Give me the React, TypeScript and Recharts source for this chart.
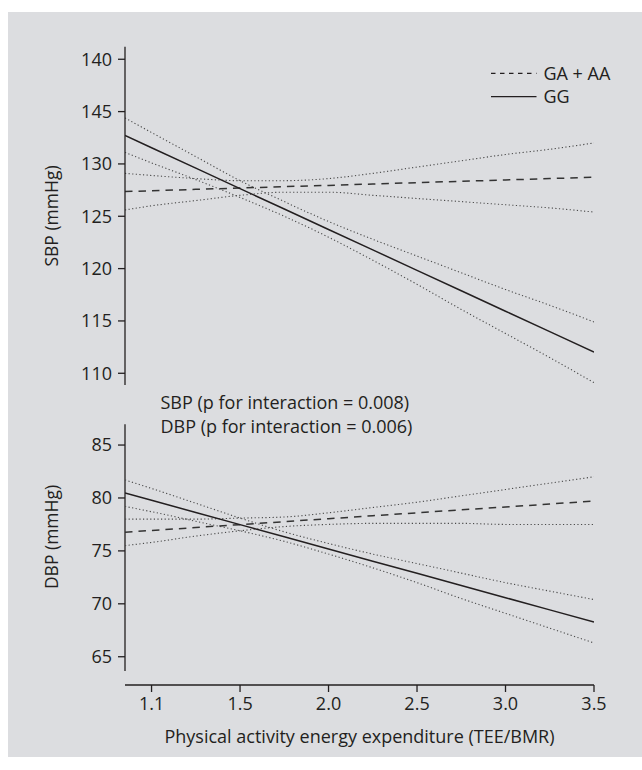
import { LineChart, Line, XAxis, YAxis, ReferenceLine } from "recharts";

// x positions: first tick sits at 1.0 but is printed "1.1" in the source figure
const xVals = [0.85, 1.0, 1.25, 1.5, 1.75, 2.0, 2.25, 2.5, 2.75, 3.0, 3.25, 3.5];
const xTicks = [1.0, 1.5, 2.0, 2.5, 3.0, 3.5];
const xTickLabels = ["1.1", "1.5", "2.0", "2.5", "3.0", "3.5"];

// SBP panel
const sbpTicks = [110, 115, 120, 125, 130, 135, 140];
const sbpTickLabels = ["110", "115", "120", "125", "130", "145", "140"];
const sbpGA = [127.36, 127.44, 127.57, 127.7, 127.83, 127.95, 128.08, 128.21, 128.34, 128.47, 128.6, 128.73];
const sbpGAUpper = [129.1, 128.9, 128.6, 128.4, 128.4, 128.6, 129.1, 129.7, 130.3, 130.9, 131.4, 132.0];
const sbpGALower = [125.6, 126.0, 126.5, 127.0, 127.3, 127.3, 127.0, 126.7, 126.4, 126.1, 125.8, 125.4];
const sbpGG = [132.72, 131.55, 129.6, 127.64, 125.69, 123.74, 121.79, 119.83, 117.88, 115.93, 113.98, 112.02];
const sbpGGUpper = [134.4, 133.0, 130.7, 128.4, 126.4, 124.5, 122.8, 121.2, 119.6, 118.0, 116.5, 114.9];
const sbpGGLower = [131.1, 130.1, 128.5, 126.8, 125.0, 123.0, 120.8, 118.5, 116.1, 113.8, 111.5, 109.1];

// DBP panel
const dbpTicks = [65, 70, 75, 80, 85];
const dbpGA = [76.76, 76.93, 77.21, 77.48, 77.76, 78.04, 78.32, 78.6, 78.88, 79.15, 79.43, 79.71];
const dbpGAUpper = [78.0, 78.0, 78.0, 78.1, 78.2, 78.6, 79.1, 79.6, 80.2, 80.8, 81.4, 82.0];
const dbpGALower = [75.5, 75.8, 76.4, 76.9, 77.3, 77.5, 77.6, 77.6, 77.6, 77.5, 77.5, 77.5];
const dbpGG = [80.47, 79.78, 78.63, 77.48, 76.33, 75.18, 74.03, 72.88, 71.73, 70.58, 69.43, 68.28];
const dbpGGUpper = [81.7, 80.9, 79.5, 78.1, 76.8, 75.7, 74.7, 73.8, 72.9, 72.0, 71.2, 70.4];
const dbpGGLower = [79.2, 78.7, 77.8, 76.9, 75.9, 74.7, 73.4, 72.0, 70.5, 69.1, 67.7, 66.3];

const sbpData = xVals.map((x, i) => ({
  x,
  ga: sbpGA[i],
  gaHi: sbpGAUpper[i],
  gaLo: sbpGALower[i],
  gg: sbpGG[i],
  ggHi: sbpGGUpper[i],
  ggLo: sbpGGLower[i],
}));

const dbpData = xVals.map((x, i) => ({
  x,
  ga: dbpGA[i],
  gaHi: dbpGAUpper[i],
  gaLo: dbpGALower[i],
  gg: dbpGG[i],
  ggHi: dbpGGUpper[i],
  ggLo: dbpGGLower[i],
}));

const INK = "#231f20";
const FONT = "'Open Sans', sans-serif";
const tickStyle = { fill: INK, fontSize: 18, fontFamily: FONT };

const YTitle = ({ text, cy }: any) => (
  <text
    x={50.5}
    y={cy}
    transform={`rotate(-90 50.5 ${cy})`}
    textAnchor="middle"
    dominantBaseline="central"
    fill={INK}
    fontSize={17.5}
    fontFamily={FONT}
  >
    {text}
  </text>
);

const XTitle = () => (
  <text x={359.5} y={335.5} textAnchor="middle" dominantBaseline="central" fill={INK} fontSize={18} fontFamily={FONT}>
    Physical activity energy expenditure (TEE/BMR)
  </text>
);

const seriesLines = () => [
  <Line key="gaHi" dataKey="gaHi" type="monotone" stroke="#4a4a4a" strokeWidth={1.1} strokeDasharray="1.2 2.4" dot={false} isAnimationActive={false} />,
  <Line key="gaLo" dataKey="gaLo" type="monotone" stroke="#4a4a4a" strokeWidth={1.1} strokeDasharray="1.2 2.4" dot={false} isAnimationActive={false} />,
  <Line key="ggHi" dataKey="ggHi" type="monotone" stroke="#4a4a4a" strokeWidth={1.1} strokeDasharray="1.2 2.4" dot={false} isAnimationActive={false} />,
  <Line key="ggLo" dataKey="ggLo" type="monotone" stroke="#4a4a4a" strokeWidth={1.1} strokeDasharray="1.2 2.4" dot={false} isAnimationActive={false} />,
  <Line key="ga" dataKey="ga" type="linear" stroke="#333" strokeWidth={1.5} strokeDasharray="7.5 6" dot={false} isAnimationActive={false} />,
  <Line key="gg" dataKey="gg" type="linear" stroke={INK} strokeWidth={1.5} dot={false} isAnimationActive={false} />,
];

export default function App() {
  return (
    <div style={{ position: "absolute", left: 0, top: 0, width: 642, height: 770, background: "#fff" }}>
      <div style={{ position: "absolute", left: 8, top: 12, width: 634, height: 745, background: "#dcdde0" }} />

      <div style={{ position: "absolute", left: 0, top: 0 }}>
        <LineChart width={642} height={400} data={sbpData} margin={{ top: 46.7, right: 48, bottom: 15, left: 0 }}>
          <XAxis type="number" dataKey="x" domain={[0.85, 3.5]} hide allowDataOverflow />
          <YAxis
            type="number"
            domain={[108.88, 141.2]}
            ticks={sbpTicks}
            tickFormatter={(v: number) => sbpTickLabels[sbpTicks.indexOf(v)]}
            allowDataOverflow
            width={125}
            tick={tickStyle}
            tickSize={7}
            tickMargin={6}
            axisLine={{ stroke: INK, strokeWidth: 1.3 }}
            tickLine={{ stroke: INK, strokeWidth: 1.3 }}
            label={<YTitle text="SBP (mmHg)" cy={216} />}
          />
          {seriesLines()}
        </LineChart>
      </div>

      <div style={{ position: "absolute", left: 0, top: 400 }}>
        <LineChart width={642} height={370} data={dbpData} margin={{ top: 24.3, right: 48, bottom: 0, left: 0 }}>
          <XAxis
            type="number"
            dataKey="x"
            domain={[0.85, 3.5]}
            ticks={xTicks}
            tickFormatter={(v: number) => xTickLabels[xTicks.indexOf(v)]}
            allowDataOverflow
            height={85}
            tick={tickStyle}
            tickSize={7}
            tickMargin={5}
            axisLine={{ stroke: INK, strokeWidth: 1.3 }}
            tickLine={{ stroke: INK, strokeWidth: 1.3 }}
            label={<XTitle />}
          />
          <YAxis
            type="number"
            domain={[62.33, 86.96]}
            ticks={dbpTicks}
            allowDataOverflow
            width={125}
            tick={tickStyle}
            tickSize={7}
            tickMargin={6}
            axisLine={false}
            tickLine={{ stroke: INK, strokeWidth: 1.3 }}
            label={<YTitle text="DBP (mmHg)" cy={137} />}
          />
          <ReferenceLine
            segment={[
              { x: 0.85, y: 63.65 },
              { x: 0.85, y: 86.96 },
            ]}
            stroke={INK}
            strokeWidth={1.3}
            ifOverflow="visible"
          />
          {seriesLines()}
        </LineChart>
      </div>

      <svg style={{ position: "absolute", left: 0, top: 0 }} width={642} height={770}>
        <line x1={491} x2={536.5} y1={73.3} y2={73.3} stroke={INK} strokeWidth={1.3} strokeDasharray="4.5 4.5" />
        <line x1={491} x2={536.5} y1={96.7} y2={96.7} stroke={INK} strokeWidth={1.3} />
        <text x={543.4} y={72.8} dominantBaseline="central" fill={INK} fontSize={18} fontFamily={FONT}>
          GA + AA
        </text>
        <text x={543.4} y={96.3} dominantBaseline="central" fill={INK} fontSize={18} fontFamily={FONT}>
          GG
        </text>
        <text x={160.5} y={402} dominantBaseline="central" fill={INK} fontSize={18} fontFamily={FONT}>
          SBP (p for interaction = 0.008)
        </text>
        <text x={160.5} y={425.6} dominantBaseline="central" fill={INK} fontSize={18} fontFamily={FONT}>
          DBP (p for interaction = 0.006)
        </text>
      </svg>
    </div>
  );
}
